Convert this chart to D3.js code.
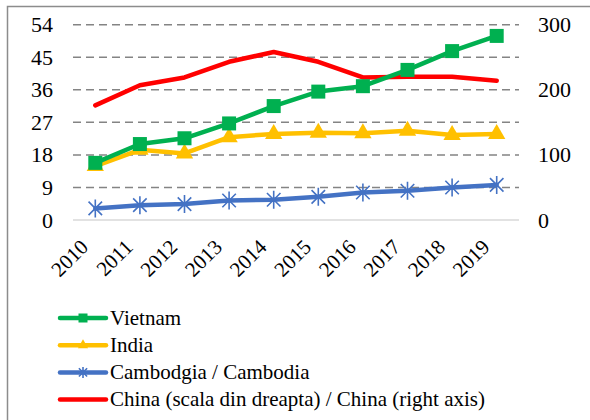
<!DOCTYPE html>
<html>
<head>
<meta charset="utf-8">
<script src="https://cdn.jsdelivr.net/npm/d3@7"></script>
<style>
  body { margin: 0; background: #fff; }
</style>
</head>
<body>
<svg id="chart" width="590" height="420" font-family="Liberation Serif"></svg>
<script>
const years = ['2010', '2011', '2012', '2013', '2014', '2015', '2016', '2017', '2018', '2019'];
const vietnam = [15.8, 21.0, 22.6, 26.7, 31.5, 35.5, 37.0, 41.5, 46.7, 50.9];
const india = [14.9, 19.4, 18.4, 22.9, 23.8, 24.1, 24.0, 24.7, 23.5, 23.8];
const cambodia = [3.2, 4.1, 4.4, 5.4, 5.6, 6.4, 7.6, 8.1, 9.0, 9.7];
const china = [176, 207, 219, 243, 258, 243, 219, 220, 220, 214];
const leftTicks = [0, 9, 18, 27, 36, 45, 54];
const rightTicks = [0, 100, 200, 300];
const seriesNames = ['Vietnam', 'India', 'Cambodgia / Cambodia', 'China (scala din dreapta) / China (right axis)'];

const FONT = 'Liberation Serif';
const svg = d3.select('#chart');

// frame around the chart
svg.append('rect')
  .attr('x', 7.5).attr('y', 6.5)
  .attr('width', 590).attr('height', 420)
  .attr('fill', 'none').attr('stroke', '#8c8c8c').attr('stroke-width', 1.5);

const x = d3.scaleBand().domain(years).range([73, 519]);
const yL = d3.scaleLinear().domain([0, 54]).range([220, 24.7]);
const yR = d3.scaleLinear().domain([0, 300]).range([220, 24.7]);

// gridlines
svg.append('g')
  .selectAll('line')
  .data(leftTicks.filter(d => d > 0))
  .join('line')
  .attr('x1', 73).attr('x2', 519)
  .attr('y1', d => yL(d)).attr('y2', d => yL(d))
  .attr('stroke', '#848484').attr('stroke-width', 1.5)
  .attr('stroke-dasharray', '8,5');

svg.append('line')
  .attr('x1', 73).attr('x2', 519)
  .attr('y1', yL(0)).attr('y2', yL(0))
  .attr('stroke', '#d9d9d9').attr('stroke-width', 1.5);

// left axis
const leftAxis = svg.append('g')
  .attr('transform', 'translate(53,0)')
  .call(d3.axisLeft(yL).tickValues(leftTicks).tickSize(0).tickPadding(0));
leftAxis.attr('font-family', FONT).attr('font-size', 22);
leftAxis.select('.domain').remove();
leftAxis.selectAll('text').style('font-family', FONT).style('font-size', '22px').attr('fill', '#000');

// right axis
const rightAxis = svg.append('g')
  .attr('transform', 'translate(538,0)')
  .call(d3.axisRight(yR).tickValues(rightTicks).tickSize(0).tickPadding(0));
rightAxis.attr('font-family', FONT).attr('font-size', 22);
rightAxis.select('.domain').remove();
rightAxis.selectAll('text').style('font-family', FONT).style('font-size', '22px').attr('fill', '#000');

// x axis labels, rotated
svg.append('g')
  .selectAll('text')
  .data(years)
  .join('text')
  .attr('transform', d => `translate(${x(d) + x.bandwidth() / 2 - 11},243) rotate(-45)`)
  .attr('text-anchor', 'end')
  .attr('dy', '0.35em')
  .style('font-family', FONT)
  .style('font-size', '21px')
  .text(d => d);

const cx = d => x(d) + x.bandwidth() / 2;

function drawLine(values, scale, color) {
  const line = d3.line().x((v, i) => cx(years[i])).y(v => scale(v));
  svg.append('path')
    .attr('d', line(values))
    .attr('fill', 'none')
    .attr('stroke', color)
    .attr('stroke-width', 4.5)
    .attr('stroke-linejoin', 'round')
    .attr('stroke-linecap', 'round');
}

function square(g, s, color) {
  g.append('rect').attr('x', -s / 2).attr('y', -s / 2).attr('width', s).attr('height', s).attr('fill', color);
}
function triangle(g, s, color) {
  g.append('path').attr('d', d3.symbol(d3.symbolTriangle, s * s * 0.45)()).attr('fill', color);
}
function star(g, s, color) {
  const r = s / 2;
  const d = r * 0.75;
  g.append('path')
    .attr('d', `M0,${-r}L0,${r}M${-d},${-d}L${d},${d}M${-d},${d}L${d},${-d}`)
    .attr('stroke', color).attr('stroke-width', 1.6).attr('fill', 'none');
}

function drawMarkers(values, scale, fn, size, color) {
  values.forEach((v, i) => {
    const g = svg.append('g').attr('transform', `translate(${cx(years[i])},${scale(v)})`);
    fn(g, size, color);
  });
}

drawLine(china, yR, '#ff0000');
drawLine(cambodia, yL, '#4472c4');
drawMarkers(cambodia, yL, star, 18, '#4472c4');
drawLine(india, yL, '#ffc000');
drawMarkers(india, yL, triangle, 17, '#ffc000');
drawLine(vietnam, yL, '#00b050');
drawMarkers(vietnam, yL, square, 14, '#00b050');

// legend
const colors = ['#00b050', '#ffc000', '#4472c4', '#ff0000'];
const markers = [square, triangle, star, null];
const msize = [9, 10, 11, 0];
seriesNames.forEach((name, i) => {
  const yy = 318 + i * 27.2;
  svg.append('line')
    .attr('x1', 60).attr('x2', 106)
    .attr('y1', yy).attr('y2', yy)
    .attr('stroke', colors[i]).attr('stroke-width', 4.5)
    .attr('stroke-linecap', 'round');
  if (markers[i]) {
    const g = svg.append('g').attr('transform', `translate(83,${yy})`);
    markers[i](g, msize[i], colors[i]);
  }
  svg.append('text')
    .attr('x', 110).attr('y', yy)
    .attr('dy', '0.32em')
    .style('font-family', FONT)
    .style('font-size', '21px')
    .text(name);
});
</script>
</body>
</html>
